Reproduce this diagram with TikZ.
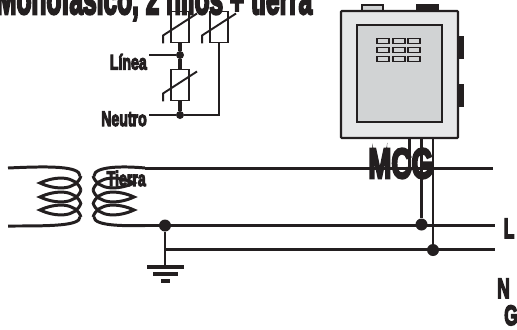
\documentclass[tikz,border=0pt]{standalone}
\usepackage{fontspec}
\newfontfamily\heavyfont[BoldFeatures={FakeBold=6}]{Liberation Sans}
\usetikzlibrary{calc}
\definecolor{inkblack}{HTML}{231F20}
\definecolor{panelout}{HTML}{E6E7E8}
\definecolor{panelin}{HTML}{D1D3D4}
\tikzset{
  bus/.style={inkblack, line width=1.7pt},
  wire/.style={inkblack, line width=1.1pt},
  stem/.style={inkblack, line width=2pt},
  movbox/.style={draw=inkblack, line width=1.1pt, fill=white, minimum width=0.36cm, minimum height=0.62cm, inner sep=0pt},
  junction/.style={circle, fill=inkblack, inner sep=0pt, minimum size=0.24cm},
  keybtn/.style={draw=inkblack, line width=1pt, fill=panelin, minimum width=0.23cm, minimum height=0.1cm, inner sep=0pt},
  heavy/.style={inkblack, inner sep=0pt}
}

\begin{document}
\begin{tikzpicture}[x=0.02cm, y=-0.02cm]
            \useasboundingbox (0,0) rectangle (517,329);
            % meter cabinet
            \fill[panelin, draw=inkblack, line width=1.1pt] (362,11) -- (362,5) -- (383,5) -- (383,11);
            \fill[inkblack] (416,4) rectangle (439,11);
            \fill[inkblack] (458,36) rectangle (464,59);
            \fill[inkblack] (458,84) rectangle (464,107);
            \node[draw=inkblack, line width=1.2pt, fill=panelout, minimum width=2.34cm, minimum height=2.54cm, inner sep=0pt, rounded corners=0.5pt] (meter) at (399.5,74.5) {};
            \node[draw=inkblack, line width=1.2pt, fill=panelin, minimum width=1.7cm, minimum height=1.94cm, inner sep=0pt] (panel) at (399.5,73.5) {};
            \foreach \row/\yy in {a/41,b/50,c/59}
                \foreach \col/\xx in {a/383,b/399,c/414}
                    \node[keybtn] (key\row\col) at (\xx,\yy) {};
            % buses
            \coordinate (topl) at (145,168);
            \coordinate (topr) at (493,168);
            \coordinate (midl) at (145,225.5);
            \coordinate (midr) at (495,225.5);
            \coordinate (lowr) at (495,249.5);
            \node[junction] (jearth) at (165,225.5) {};
            \node[junction] (jmid) at (421.5,224.5) {};
            \node[junction] (jlow) at (433,250) {};
            \coordinate (jlowl) at (165,249.5);
            \coordinate (jtop) at (409.5,168);
            \draw[bus] (topl) -- (topr);
            \draw[bus] (midl) -- (midr);
            \draw[bus] (jlowl) -- (lowr);
            \draw[bus] (meter.south -| jtop) -- (jtop);
            \draw[bus] (meter.south -| jmid) -- (jmid);
            \draw[bus] (meter.south -| jlow) -- (jlow);
            % ground
            \coordinate (gnd) at (165,267);
            \draw[bus] (jearth) -- (gnd);
            \draw[inkblack, line width=2pt] (147,267) -- (184,267);
            \draw[inkblack, line width=2pt] (153,274) -- (178,274);
            \draw[inkblack, line width=2pt] (161,281) -- (170,281);
            % windings
            \draw[bus] (8,168) .. controls (50,166) and (80,166) .. (80,176);
            \draw[bus] (8,226) .. controls (50,226) and (80,226) .. (80,217);
            \draw[bus] (topl) .. controls (124,166) and (94,166) .. (94,176);
            \draw[bus] (midl) .. controls (124,226) and (94,226) .. (94,217);
            \foreach \yy in {183,197,210} {
                \draw[wire, line width=1.7pt] (81,\yy-7) .. controls (76,\yy+8) and (55,\yy+7) .. (40,\yy)
                    .. controls (55,\yy-7) and (76,\yy-8) .. (81,\yy+7);
                \draw[wire, line width=1.7pt] (93,\yy-7) .. controls (98,\yy+8) and (119,\yy+7) .. (134,\yy)
                    .. controls (119,\yy-7) and (98,\yy-8) .. (93,\yy+7);
            }
            % suppressors
            \node[movbox] (movone) at (180,27) {};
            \node[movbox] (movtwo) at (219,27) {};
            \node[movbox] (movthree) at (180,85) {};
            \foreach \mov in {movone,movtwo,movthree}
                \draw[wire] ($(\mov.south west)+(-7,0)$) -- ++(0,-8) -- ++(34,-22);
            \node[junction, minimum size=0.16cm] (linea) at (180,55) {};
            \node[junction, minimum size=0.16cm] (neutro) at (180,115) {};
            \coordinate (linealead) at (149,55);
            \coordinate (neutrolead) at (149,115);
            \draw[stem] (movone.south) -- (linea);
            \draw[stem] (linea) -- (movthree.north);
            \draw[stem] (movthree.south) -- (neutro);
            \draw[wire] (linealead) -- (linea);
            \draw[wire] (neutrolead) -- (neutro);
            \draw[wire] (neutro) -| (movtwo.south);
            % labels
            \node[heavy, anchor=base west, font=\heavyfont\bfseries\fontsize{24}{24}\selectfont, xscale=0.58] (title) at (-4,14) {Monofásico, 2 hilos + tierra};
            \node[heavy, anchor=base east, font=\heavyfont\bfseries\fontsize{12}{12}\selectfont, xscale=0.67] (lblinea) at (147,69.5) {Línea};
            \node[heavy, anchor=base east, font=\heavyfont\bfseries\fontsize{12}{12}\selectfont, xscale=0.67] (lbneutro) at (147,126) {Neutro};
            \node[heavy, anchor=base east, font=\heavyfont\bfseries\fontsize{12}{12}\selectfont, xscale=0.67] (lbtierra) at (146,186) {Tierra};
            \node[heavy, anchor=base west, font=\heavyfont\bfseries\fontsize{24}{24}\selectfont, xscale=0.66] (lbmcg) at (368,178) {MCG};
            \node[heavy, anchor=base west, font=\heavyfont\bfseries\fontsize{16}{16}\selectfont, xscale=0.62] (lbl) at (503.5,238) {L};
            \node[heavy, anchor=base west, font=\heavyfont\bfseries\fontsize{16}{16}\selectfont, xscale=0.62] (lbn) at (497,298) {N};
            \node[heavy, anchor=base west, font=\heavyfont\bfseries\fontsize{16}{16}\selectfont, xscale=0.62] (lbg) at (504,325) {G};
        \end{tikzpicture}
\end{document}
